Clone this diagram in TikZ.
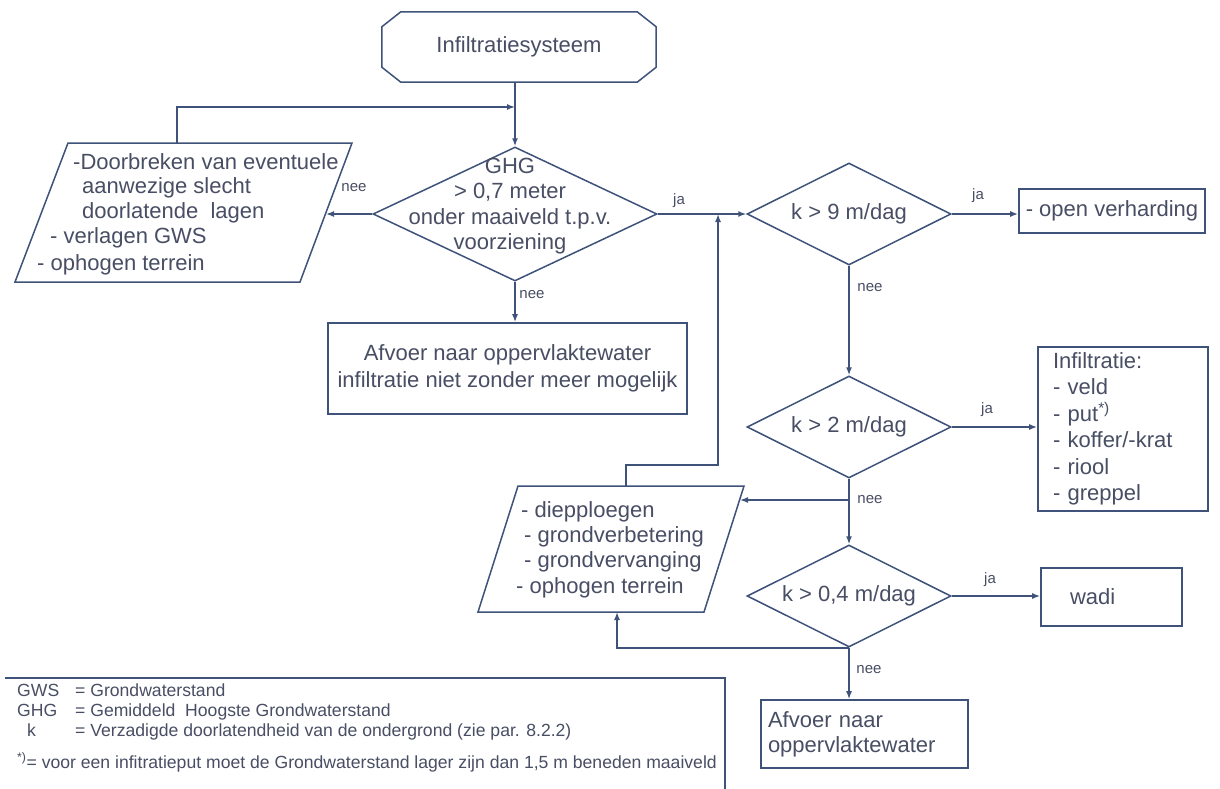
\documentclass[tikz,border=0pt]{standalone}
\usepackage{fontspec}
\setmainfont{Liberation Sans}
\usetikzlibrary{shapes.geometric,arrows.meta,calc}
\definecolor{ln}{RGB}{62,82,122}
\definecolor{tx}{RGB}{72,78,100}
\begin{document}
\begin{tikzpicture}[x=1pt,y=-1pt,
  line/.style={draw=ln,line width=1.5pt},
  arr/.style={line,-{Latex[length=8pt,width=6pt]}},
  dia/.style={shape=diamond,draw=ln,line width=1.5pt,inner sep=0pt,aspect=2,text=tx,font=\fontsize{22}{25}\selectfont},
  box/.style={draw=ln,line width=1.6pt,inner sep=0pt,text=tx,font=\fontsize{22}{26.5}\selectfont},
  txt/.style={text=tx,font=\fontsize{22}{25.5}\selectfont,inner sep=0pt},
  lbl/.style={text=tx,font=\fontsize{15}{17}\selectfont,inner sep=0pt},
  leg/.style={text=tx,font=\fontsize{17.6}{19}\selectfont,inner sep=0pt,anchor=base west}]
\useasboundingbox[fill=white] (0,0) rectangle (1220,789);

% start
\node[txt, minimum width=274pt, minimum height=70pt] (start) at (519,47) {Infiltratiesysteem};
\draw[line] ($(start.north west)+(19,0)$) -- ($(start.north east)+(-19,0)$)
  -- ($(start.north east)+(0,15)$) -- ($(start.south east)+(0,-15)$)
  -- ($(start.south east)+(-19,0)$) -- ($(start.south west)+(19,0)$)
  -- ($(start.south west)+(0,-15)$) -- ($(start.north west)+(0,15)$) -- cycle;

% decision 1
\node[dia, minimum width=284pt, minimum height=134pt] (d1) at (515,214) {};
\node[txt, align=center] (d1t) at (510,206) {GHG\\> 0,7 meter\\onder maaiveld t.p.v.\\voorziening};

% parallelogram 1
\coordinate (p1tl) at (68,143);
\coordinate (p1tr) at (352,143);
\coordinate (p1br) at (300,282);
\coordinate (p1bl) at (15,282);
\draw[line] (p1tl) -- (p1tr) -- (p1br) -- (p1bl) -- cycle;
\coordinate (p1top) at (177,143);
\coordinate (p1r) at (326,214);
\node[txt, anchor=west] (p1a) at (73,162) {-Doorbreken van eventuele};
\node[txt, anchor=west] (p1b) at (82,188) {aanwezige slecht};
\node[txt, anchor=west] (p1c) at (82,213) {doorlatende\ \ lagen};
\node[txt, anchor=west] (p1d) at (50,238) {- verlagen GWS};
\node[txt, anchor=west] (p1e) at (37,265) {- ophogen terrein};

% box 1
\node[box, align=center, minimum width=359pt, minimum height=91pt] (b1) at (507.5,368.5) {Afvoer naar oppervlaktewater\\infiltratie niet zonder meer mogelijk};

% decisions 2-4
\node[dia, minimum width=204pt, minimum height=102pt] (d2) at (849,214) {k > 9 m/dag};
\node[dia, minimum width=204pt, minimum height=102pt] (d3) at (849,427) {k > 2 m/dag};
\node[dia, minimum width=204pt, minimum height=102pt] (d4) at (849,596) {k > 0,4 m/dag};

% result boxes
\node[box, minimum width=186pt, minimum height=44pt] (b2) at (1112,211) {- open verharding};
\node[box, align=left, text width=140pt, inner xsep=15pt, minimum height=164pt] (b3) at (1123,429)
  {Infiltratie:\\- veld\\- put\textsuperscript{*)}\\- koffer/-krat\\- riool\\- greppel};
\node[box, align=left, text width=83pt, inner xsep=29pt, minimum height=58pt] (b4) at (1111.5,597) {wadi};
\node[box, align=left, text width=193pt, inner xsep=7pt, minimum height=68pt, font=\fontsize{22}{25}\selectfont] (b5) at (864.5,734) {Afvoer naar\\oppervlaktewater};

% parallelogram 2
\coordinate (p2tl) at (518,486);
\coordinate (p2tr) at (744,486);
\coordinate (p2br) at (704,612);
\coordinate (p2bl) at (478,612);
\draw[line] (p2tl) -- (p2tr) -- (p2br) -- (p2bl) -- cycle;
\coordinate (p2top) at (626,486);
\coordinate (p2r) at (740,500);
\coordinate (p2b) at (617,612);
\node[txt, anchor=west] (p2a) at (521,512) {- diepploegen};
\node[txt, anchor=west] (p2b1) at (524,537) {- grondverbetering};
\node[txt, anchor=west] (p2c) at (524,562) {- grondvervanging};
\node[txt, anchor=west] (p2d) at (516,588) {- ophogen terrein};

% connectors
\coordinate (j1) at (515,107);
\coordinate (j2) at (718,214);
\coordinate (j3) at (849,500);
\draw[arr] (start.south -| d1.north) -- (d1.north);
\draw[arr] (p1top) |- (j1);
\draw[arr] (d1.west) -- (p1r);
\draw[arr] (d1.south) -- (d1.south |- b1.north);
\draw[arr] (d1.east) -- (d2.west);
\draw[arr] (p2top) -- ++(0,-21) -| (j2);
\draw[arr] (d2.east) -- (b2.west |- d2.east);
\draw[arr] (d2.south) -- (d3.north);
\draw[arr] (d3.east) -- (b3.west |- d3.east);
\draw[arr] (d3.south) -- (d4.north);
\draw[arr] (j3) -- (p2r);
\draw[arr] (d4.east) -- (b4.west |- d4.east);
\draw[arr] (d4.south) -- (d4.south |- b5.north);
\draw[arr] (d4.south) -| (p2b);

% labels
\node[lbl] (l1) at (354,188) {nee};
\node[lbl] (l2) at (532,295) {nee};
\node[lbl] (l3) at (679,201) {ja};
\node[lbl] (l4) at (978,196) {ja};
\node[lbl] (l5) at (870,288) {nee};
\node[lbl] (l6) at (987,410) {ja};
\node[lbl] (l7) at (870,500) {nee};
\node[lbl] (l8) at (990,580) {ja};
\node[lbl] (l9) at (869,670) {nee};

% legend
\draw[line, line width=1.2pt] (5,678) -- (725,678) -- (725,789);
\node[leg] (g1) at (17,696) {GWS};
\node[leg] (g2) at (75,696) {= Grondwaterstand};
\node[leg] (g3) at (17,716) {GHG};
\node[leg] (g4) at (75,716) {= Gemiddeld\ \ Hoogste Grondwaterstand};
\node[leg] (g5) at (27,736) {k};
\node[leg] (g6) at (75,736) {= Verzadigde doorlatendheid van de ondergrond (zie par. 8.2.2)};
\node[leg] (g7) at (17,768) {\textsuperscript{*)}= voor een infitratieput moet de Grondwaterstand lager zijn dan 1,5 m beneden maaiveld};
\end{tikzpicture}
\end{document}
